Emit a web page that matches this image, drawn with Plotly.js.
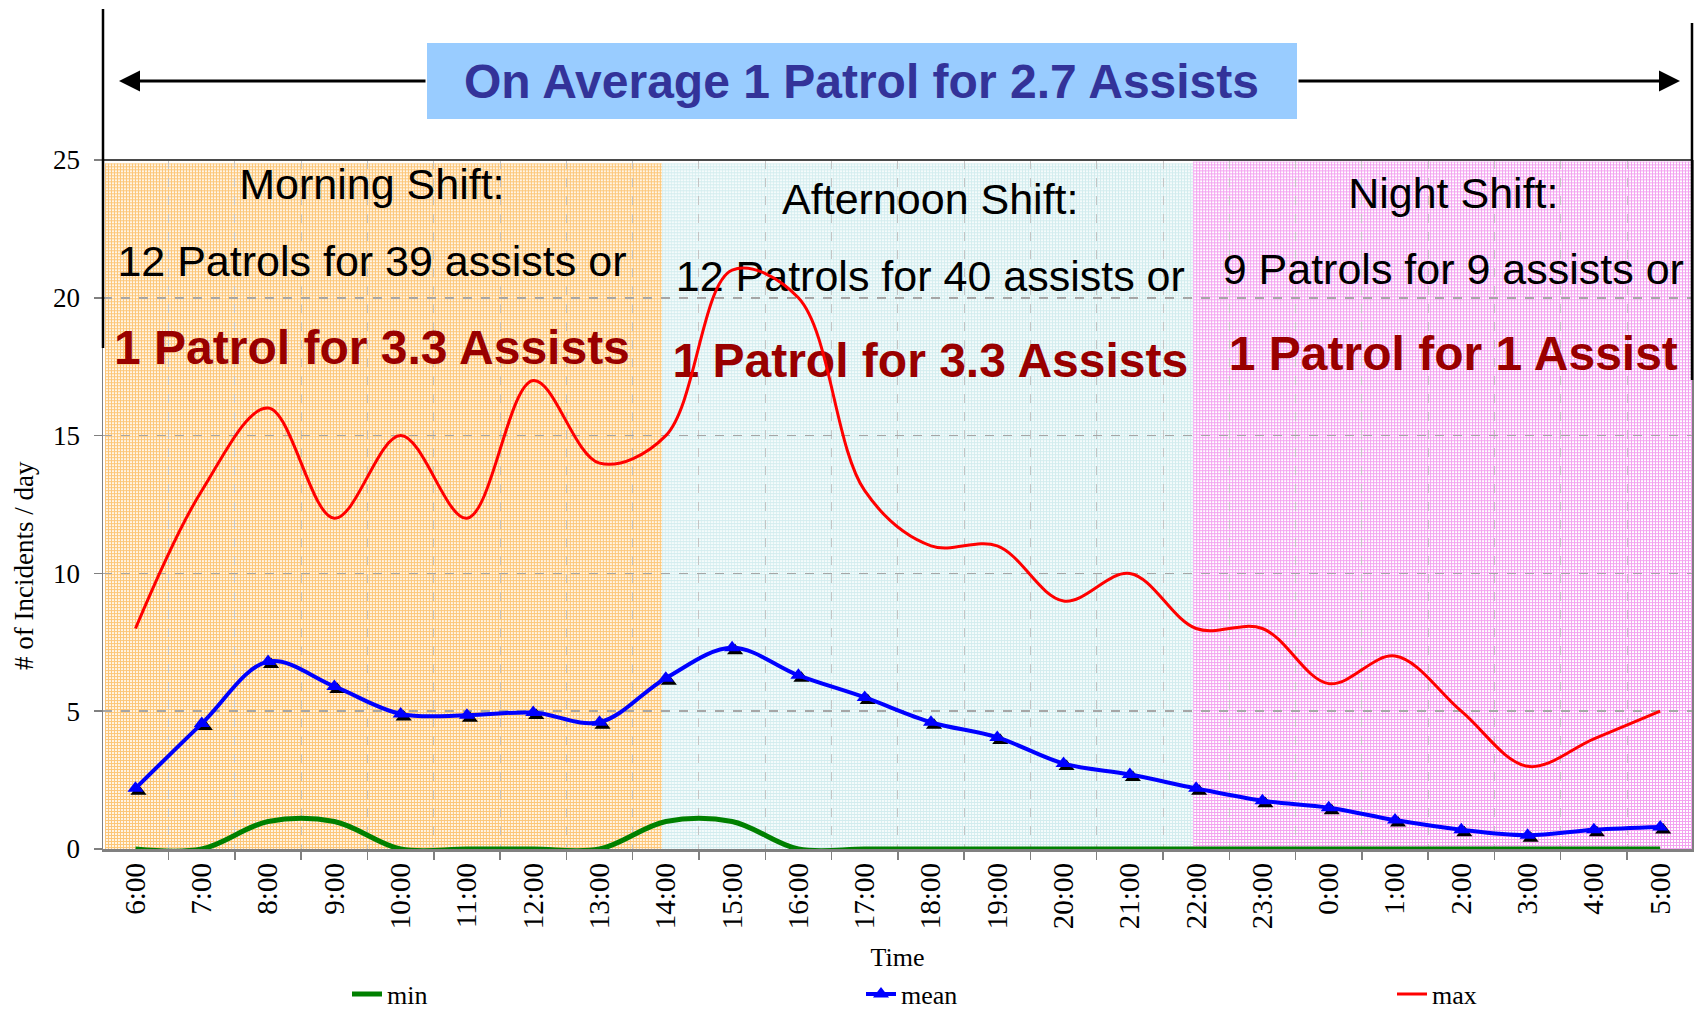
<!DOCTYPE html>
<html>
<head>
<meta charset="utf-8">
<script src="https://cdn.plot.ly/plotly-3.0.1.min.js"></script>
<style>
  html, body { margin: 0; padding: 0; background: #ffffff; }
  #chart { width: 1700px; height: 1010px; }
</style>
</head>
<body>
<div id="chart"></div>
<script>
// ---- data ----
const times = ['6:00','7:00','8:00','9:00','10:00','11:00','12:00','13:00','14:00','15:00','16:00','17:00',
               '18:00','19:00','20:00','21:00','22:00','23:00','0:00','1:00','2:00','3:00','4:00','5:00'];
const minV  = [0, 0, 1, 1, 0, 0, 0, 0, 1, 1, 0, 0, 0, 0, 0, 0, 0, 0, 0, 0, 0, 0, 0, 0];
const meanV = [2.2, 4.55, 6.8, 5.9, 4.9, 4.85, 4.95, 4.6, 6.2, 7.3, 6.3, 5.5,
               4.6, 4.05, 3.1, 2.7, 2.2, 1.75, 1.5, 1.05, 0.7, 0.5, 0.7, 0.8];
const maxV  = [8, 13, 16, 12, 15, 12, 17, 14, 15, 21, 20, 13,
               11, 11, 9, 10, 8, 8, 6, 7, 5, 3, 4, 5];
const seriesNames = ['min', 'mean', 'max'];
const yTicks = [0, 5, 10, 15, 20, 25];

const bannerText = 'On Average 1 Patrol for 2.7 Assists';
const shiftTitles = ['Morning Shift:', 'Afternoon Shift:', 'Night Shift:'];
const shiftLines  = ['12 Patrols for 39 assists or', '12 Patrols for 40 assists or', '9 Patrols for 9 assists or'];
const shiftRatios = ['1 Patrol for 3.3 Assists', '1 Patrol for 3.3 Assists', '1 Patrol for 1 Assist'];

// ---- layout geometry ----
const W = 1700, H = 1010;
const mL = 103, mR = 5, mT = 160, mB = 158;
const pw = W - mL - mR, ph = H - mT - mB;
const dx = 3 / pw, dy = 3 / ph;   // marker shadow offset
const xr = [-0.49, 23.48];
const yr = [0, 25];
const pxPerX = (pw - 3) / (xr[1] - xr[0]);
const pxPerY = (ph - 3) / (yr[1] - yr[0]);
const py = Y => (H - mB - Y) / ph;    // page pixel row -> paper y
const pxp = X => (X - mL) / pw;       // page pixel column -> paper x

const serif = 'Liberation Serif, Times New Roman, serif';
const sans = 'Liberation Sans, Arial, sans-serif';

// textured fills for the shift areas
function gridTexture(x0, x1, y0, y1, bg, fg) {
  const w = Math.round((x1 - x0) * pxPerX), h = Math.round((y1 - y0) * pxPerY);
  const svg = '<svg xmlns="http://www.w3.org/2000/svg" width="' + w + '" height="' + h +
    '" viewBox="0 0 ' + w + ' ' + h + '" shape-rendering="crispEdges">' +
    '<defs><pattern id="p" width="3" height="3" patternUnits="userSpaceOnUse">' +
    '<rect width="3" height="3" fill="' + bg + '"/><rect width="3" height="1" fill="' + fg + '"/>' +
    '<rect width="1" height="3" fill="' + fg + '"/></pattern></defs>' +
    '<rect width="' + w + '" height="' + h + '" fill="url(#p)"/></svg>';
  return { source: 'data:image/svg+xml;charset=utf-8,' + encodeURIComponent(svg),
           xref: 'x', yref: 'y', x: x0, y: y1, sizex: x1 - x0, sizey: y1 - y0,
           xanchor: 'left', yanchor: 'top', sizing: 'stretch', layer: 'below', opacity: 1 };
}

const images = [
  gridTexture(-0.46, 7.94, 0, 24.88, '#fff5e6', '#fcc678'),
  gridTexture(7.94, 15.955, 0, 24.88, '#f4fbfb', '#d2ecee'),
  gridTexture(15.955, 23.48, 0, 24.95, '#ffffff', '#f3a2f0')
];

const traces = [
  { // min on the main subplot (gives the category axis its categories)
    x: times, y: minV, name: seriesNames[0], xaxis: 'x', yaxis: 'y', type: 'scatter', mode: 'lines',
    line: { color: '#008000', width: 5, shape: 'spline', smoothing: 1 }, legend: 'legend'
  },
  { // shadow of mean markers
    x: times, y: meanV, xaxis: 'x2', yaxis: 'y2', type: 'scatter', mode: 'markers',
    marker: { symbol: 'triangle-up', size: 14, color: '#000000' },
    showlegend: false, hoverinfo: 'skip'
  },
  {
    x: times, y: meanV, name: seriesNames[1], xaxis: 'x3', yaxis: 'y3', type: 'scatter', mode: 'lines+markers',
    line: { color: '#0000ff', width: 4, shape: 'spline', smoothing: 1 },
    marker: { symbol: 'triangle-up', size: 14, color: '#0000ff' }, legend: 'legend2'
  },
  {
    x: times, y: maxV, name: seriesNames[2], xaxis: 'x3', yaxis: 'y3', type: 'scatter', mode: 'lines',
    line: { color: '#ff0000', width: 3, shape: 'spline', smoothing: 1 }, legend: 'legend3'
  }
];

const hidden = { visible: false, showgrid: false, zeroline: false, fixedrange: true };

const shapes = [
  // top of the value area
  { type: 'line', xref: 'paper', yref: 'paper', x0: 0, x1: 1 - dx, y0: 1, y1: 1, layer: 'above',
    line: { color: '#4a4a4a', width: 2 } },
  // bracket lines of the banner arrow
  { type: 'line', xref: 'paper', yref: 'paper', x0: 0, x1: 0, y0: py(348), y1: py(9), layer: 'above',
    line: { color: '#000000', width: 2.5 } },
  { type: 'line', xref: 'paper', yref: 'paper', x0: 1 - dx, x1: 1 - dx, y0: py(380), y1: py(23), layer: 'above',
    line: { color: '#000000', width: 2.5 } },
  // banner
  { type: 'rect', xref: 'paper', yref: 'paper', x0: pxp(427), x1: pxp(1297), y0: py(119), y1: py(43),
    layer: 'above', fillcolor: '#99ccff', line: { width: 0 } }
];

// shift texts: drawn beneath the curves, as in the reference
function textBelow(cx, cy, text, size, color, bold) {
  return { type: 'rect', xref: 'x', yref: 'y', x0: cx - 0.01, x1: cx + 0.01, y0: cy - 0.01, y1: cy + 0.01,
    layer: 'between', fillcolor: 'rgba(0,0,0,0)', line: { width: 0 },
    label: { text: bold ? '<b>' + text + '</b>' : text, textposition: 'middle center',
             xanchor: 'center', yanchor: 'middle', padding: 0,
             font: { family: sans, size: size, color: color, weight: bold ? 'bold' : 'normal' } } };
}

const shiftX = [3.567, 11.99, 19.88];
const shiftY = [[24.27, 21.47, 18.39], [23.74, 20.95, 17.92], [23.94, 21.18, 18.15]];
for (let i = 0; i < 3; i++) {
  shapes.push(textBelow(shiftX[i], shiftY[i][0], shiftTitles[i], 43, '#000000', false));
  shapes.push(textBelow(shiftX[i], shiftY[i][1], shiftLines[i], 43, '#000000', false));
  shapes.push(textBelow(shiftX[i], shiftY[i][2], shiftRatios[i], 48, '#990000', true));
}

const annotations = [
  { xref: 'paper', yref: 'paper', x: pxp(861), y: py(82), xanchor: 'center', yanchor: 'middle',
    text: '<b>' + bannerText + '</b>', showarrow: false,
    font: { family: sans, size: 48, color: '#333399' } },
  { xref: 'paper', yref: 'paper', x: pxp(119), y: py(81), ax: 308, ay: 0,
    text: '', showarrow: true, arrowhead: 2, arrowsize: 1.4, arrowwidth: 3, arrowcolor: '#000000' },
  { xref: 'paper', yref: 'paper', x: pxp(1680), y: py(81), ax: -383, ay: 0,
    text: '', showarrow: true, arrowhead: 2, arrowsize: 1.4, arrowwidth: 3, arrowcolor: '#000000' },
  // y-axis title
  { xref: 'paper', yref: 'paper', x: pxp(24), y: py(566), xanchor: 'center', yanchor: 'middle',
    text: '# of Incidents / day', textangle: -90,
    showarrow: false, font: { family: serif, size: 27, color: '#000000' } }
];

const legendBase = {
  orientation: 'h', y: py(994), xanchor: 'left', yanchor: 'middle',
  font: { family: serif, size: 26, color: '#000000' },
  bgcolor: 'rgba(0,0,0,0)', borderwidth: 0
};

const layout = {
  width: W, height: H,
  margin: { l: mL, r: mR, t: mT, b: mB, pad: 0, autoexpand: false },
  paper_bgcolor: '#ffffff', plot_bgcolor: 'rgba(0,0,0,0)',
  showlegend: true,
  xaxis: {
    type: 'category', domain: [0, 1 - dx], anchor: 'y', range: xr, fixedrange: true,
    categoryorder: 'array', categoryarray: times,
    tickson: 'boundaries', ticks: 'outside', ticklen: 8, tickcolor: '#808080', tickwidth: 1.5,
    tickangle: -90, tickfont: { family: serif, size: 29, color: '#000000' },
    showgrid: true, gridcolor: '#c4c4c4', griddash: 'dash', gridwidth: 1,
    showline: true, linecolor: '#808080', linewidth: 2.5, zeroline: false,
    title: { text: 'Time', font: { family: serif, size: 26, color: '#000000' }, standoff: 20 },
    automargin: false
  },
  yaxis: {
    domain: [dy, 1], anchor: 'x', range: yr, fixedrange: true,
    tickvals: yTicks, ticktext: yTicks.map(String),
    ticks: 'outside', ticklen: 8, tickcolor: '#808080', tickwidth: 1.5,
    tickfont: { family: serif, size: 27, color: '#000000' }, ticklabelstandoff: 8,
    showgrid: true, gridcolor: '#a6a6a6', griddash: 'dash', gridwidth: 1.5,
    showline: true, mirror: true, linecolor: '#808080', linewidth: 1.5, zeroline: false,
    automargin: false
  },
  xaxis2: Object.assign({ type: 'category', domain: [dx, 1], anchor: 'y2', range: xr,
                          categoryorder: 'array', categoryarray: times }, hidden),
  yaxis2: Object.assign({ domain: [0, 1 - dy], anchor: 'x2', range: yr }, hidden),
  xaxis3: Object.assign({ type: 'category', domain: [0, 1 - dx], anchor: 'y3', range: xr,
                          categoryorder: 'array', categoryarray: times }, hidden),
  yaxis3: Object.assign({ domain: [dy, 1], anchor: 'x3', range: yr }, hidden),
  legend:  Object.assign({ x: pxp(347) }, legendBase),
  legend2: Object.assign({ x: pxp(861) }, legendBase),
  legend3: Object.assign({ x: pxp(1392) }, legendBase),
  images: images,
  shapes: shapes,
  annotations: annotations
};

Plotly.newPlot('chart', traces, layout, { displayModeBar: false, staticPlot: true });
</script>
</body>
</html>
